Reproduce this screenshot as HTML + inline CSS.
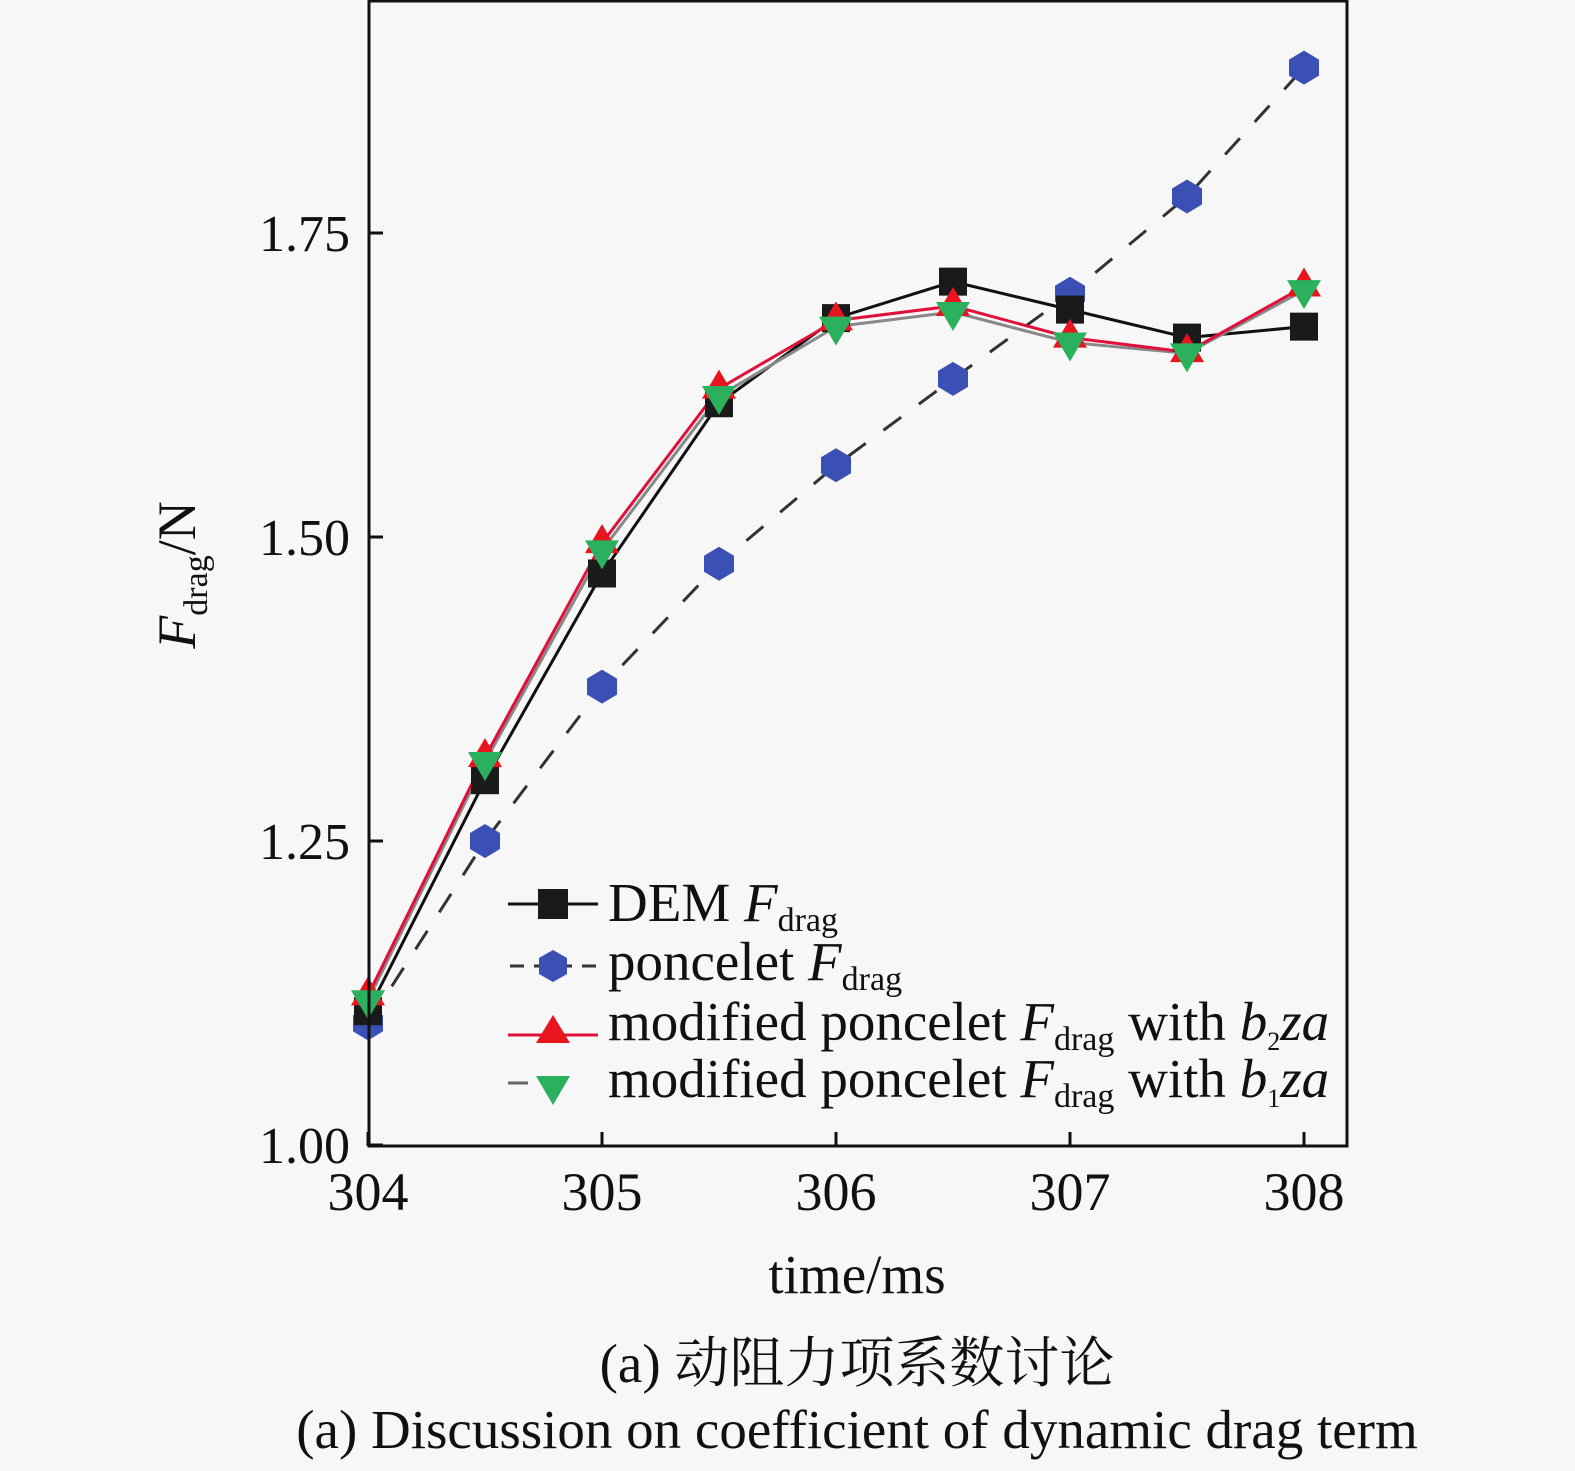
<!DOCTYPE html>
<html><head><meta charset="utf-8"><style>
body{margin:0;background:#f7f7f7;}
svg{display:block;}
text{font-family:"Liberation Serif","Noto Serif CJK SC",serif;fill:#111;}
</style></head><body>
<svg id="chart" width="1575" height="1471" viewBox="0 0 1575 1471">
<rect x="0" y="0" width="1575" height="1471" fill="#f7f7f7"/>
<g id="series"></g>
<rect x="369" y="1" width="978" height="1145" fill="none" stroke="#111" stroke-width="3"/>
<g id="axes"></g>
<text x="857" y="1293" font-size="55" text-anchor="middle">time/ms</text>
<text transform="translate(195,575) rotate(-90)" font-size="54" text-anchor="middle"><tspan font-style="italic">F</tspan><tspan font-size="34" dy="12">drag</tspan><tspan dy="-12">/N</tspan></text>
<g>
<g>
<line x1="508" y1="904" x2="598" y2="904" stroke="#111" stroke-width="3"/>
<rect x="538" y="889" width="30" height="30" fill="#1a1a1a"/>
<text x="608" y="921" font-size="55">DEM <tspan font-style="italic">F</tspan><tspan font-size="34" dy="10">drag</tspan></text></g>
<g>
<line x1="510" y1="966" x2="598" y2="966" stroke="#333" stroke-width="3" stroke-dasharray="14,10"/>
<polygon points="553,950 567,958 567,974 553,982 539,974 539,958" fill="#3a50b4"/>
<text x="608" y="980" font-size="55">poncelet <tspan font-style="italic">F</tspan><tspan font-size="34" dy="10">drag</tspan></text></g>
<g>
<line x1="508" y1="1035" x2="598" y2="1035" stroke="#e0103a" stroke-width="3"/>
<polygon points="553,1015 570,1043 536,1043" fill="#e8141e"/>
<text x="608" y="1040" font-size="55">modified poncelet <tspan font-style="italic">F</tspan><tspan font-size="34" dy="10">drag</tspan><tspan dy="-10"> with </tspan><tspan font-style="italic">b</tspan><tspan font-size="26" dy="10">2</tspan><tspan dy="-10" font-style="italic">za</tspan></text></g>
<g>
<line x1="508" y1="1083" x2="528" y2="1083" stroke="#666" stroke-width="3"/>
<polygon points="536,1076 570,1076 553,1105" fill="#2bb05e"/>
<text x="608" y="1097" font-size="55">modified poncelet <tspan font-style="italic">F</tspan><tspan font-size="34" dy="10">drag</tspan><tspan dy="-10"> with </tspan><tspan font-style="italic">b</tspan><tspan font-size="26" dy="10">1</tspan><tspan dy="-10" font-style="italic">za</tspan></text></g>
</g>
<text x="857" y="1382" font-size="55" text-anchor="middle">(a) 动阻力项系数讨论</text>
<text x="857" y="1448" font-size="55" text-anchor="middle">(a) Discussion on coefficient of dynamic drag term</text>
</svg>
<script>
const times=[304,304.5,305,305.5,306,306.5,307,307.5,308];
const demValues=[1.11,1.30,1.47,1.61,1.68,1.71,1.687,1.664,1.673];
const ponceletValues=[1.10,1.25,1.377,1.478,1.559,1.63,1.70,1.78,1.886];
const modB2Values=[1.123,1.319,1.495,1.622,1.678,1.69,1.664,1.652,1.706];
const modB1Values=[1.119,1.315,1.489,1.616,1.673,1.685,1.66,1.651,1.703];
const xTicks=[304,305,306,307,308];
const yTicks=[1.00,1.25,1.50,1.75];
const yTickLabels=["1.00","1.25","1.50","1.75"];

const NS="http://www.w3.org/2000/svg";
function xs(t){return 368+(t-304)*234;}
function ys(v){return 1145-(v-1)*1216;}
function mk(tag,attrs,parent){const e=document.createElementNS(NS,tag);for(const k in attrs)e.setAttribute(k,attrs[k]);parent.appendChild(e);return e;}
const axes=document.getElementById('axes');
const series=document.getElementById('series');
xTicks.forEach(t=>{
  const l=mk('line',{x1:xs(t),x2:xs(t),y1:1146,y2:1132,stroke:'#111','stroke-width':3},axes);
  
  
  const tx=mk('text',{x:xs(t),y:1210,'font-size':54,'text-anchor':'middle'},axes);
  tx.textContent=t;
  
  
});
yTicks.forEach((v,i)=>{
  const l=mk('line',{x1:369,x2:383,y1:ys(v),y2:ys(v),stroke:'#111','stroke-width':3},axes);
  
  
  const tx=mk('text',{x:350,y:ys(v)+18,'font-size':52,'text-anchor':'end'},axes);
  tx.textContent=yTickLabels[i];
  
  
});
function line(vals,color,dash,name){
  const p=mk('polyline',{points:vals.map((v,i)=>xs(times[i])+','+ys(v)).join(' '),fill:'none',stroke:color,'stroke-width':3},series);
  if(dash)p.setAttribute('stroke-dasharray',dash);
  
  
}
line(ponceletValues,'#333','22,22','poncelet-line');
line(demValues,'#111',null,'dem-line');
line(modB1Values,'#888',null,'modified-b1za-line');
line(modB2Values,'#e0103a',null,'modified-b2za-line');
ponceletValues.forEach((v,i)=>{
  const x=xs(times[i]),y=ys(v);
  const p=mk('polygon',{points:`${x},${y-17} ${x+15},${y-8} ${x+15},${y+8} ${x},${y+17} ${x-15},${y+8} ${x-15},${y-8}`,fill:'#3a50b4'},series);
  
  
});
demValues.forEach((v,i)=>{
  const r=mk('rect',{x:xs(times[i])-14,y:ys(v)-14,width:28,height:28,fill:'#1a1a1a'},series);
  
  
});
modB2Values.forEach((v,i)=>{
  const x=xs(times[i]),y=ys(v);
  const p=mk('polygon',{points:`${x},${y-19} ${x+17},${y+10} ${x-17},${y+10}`,fill:'#e8141e'},series);
  
  
});
modB1Values.forEach((v,i)=>{
  const x=xs(times[i]),y=ys(v);
  const p=mk('polygon',{points:`${x-17},${y-10} ${x+17},${y-10} ${x},${y+19}`,fill:'#2bb05e'},series);
  
  
});
</script>
</body></html>
